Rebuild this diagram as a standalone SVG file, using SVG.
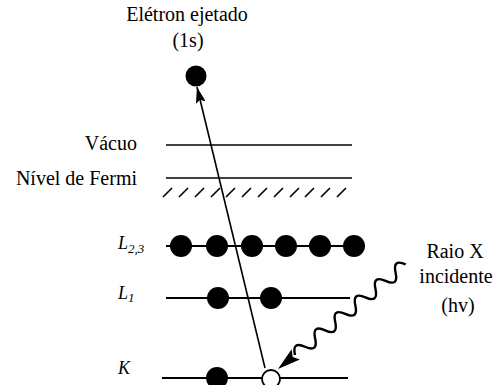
<svg xmlns="http://www.w3.org/2000/svg" width="496" height="385" viewBox="0 0 496 385">
<style>
text{font-family:"Liberation Serif","Times New Roman",serif;font-size:20px;fill:#000}
.lab{text-anchor:end}
.it{font-style:italic;font-size:18px}
.sub{font-size:13px}
.lvl{stroke:#000;stroke-width:2.2;fill:none}
.thin{stroke:#000;stroke-width:1.6;fill:none}
.dot{fill:#000}
</style>
<defs>
<marker id="ah" viewBox="0 0 16 10" refX="16" refY="5" markerWidth="16" markerHeight="10" markerUnits="userSpaceOnUse" orient="auto">
<path d="M0,0 L16,5 L0,10 L3,5 Z" fill="#000"/>
</marker>
</defs>
<g id="ejected">
<text x="187" y="21" text-anchor="middle">Elétron ejetado</text>
<text x="188" y="47" text-anchor="middle">(1s)</text>
<circle class="dot" cx="196" cy="76" r="10.5"/>
</g>
<g id="vacuum">
<text class="lab" x="137" y="150">Vácuo</text>
<line class="thin" x1="166" y1="145" x2="352" y2="145"/>
</g>
<g id="fermi">
<text class="lab" x="137" y="185">Nível de Fermi</text>
<line class="thin" x1="166" y1="178" x2="352" y2="178"/>
<path class="thin" d="M163,197l9,-9 M179,197l9,-9 M195,197l9,-9 M211,197l9,-9 M226,197l9,-9 M242,197l9,-9 M258,197l9,-9 M274,197l9,-9 M290,197l9,-9 M305,197l9,-9 M321,197l9,-9 M337,197l9,-9"/>
</g>
<g id="L23">
<text class="it" x="118" y="249">L<tspan class="sub" dy="4" font-style="italic">2,3</tspan></text>
<line class="lvl" x1="166" y1="246" x2="358" y2="246"/>
<circle class="dot" cx="181" cy="246" r="11"/>
<circle class="dot" cx="217" cy="246" r="11"/>
<circle class="dot" cx="252" cy="246" r="11"/>
<circle class="dot" cx="286" cy="246" r="11"/>
<circle class="dot" cx="320" cy="246" r="11"/>
<circle class="dot" cx="354" cy="246" r="11"/>
</g>
<g id="L1">
<text class="it" x="118" y="299">L<tspan class="sub" dy="3" font-style="italic">1</tspan></text>
<line class="lvl" x1="166" y1="298" x2="350" y2="298"/>
<circle class="dot" cx="218" cy="298" r="11"/>
<circle class="dot" cx="271" cy="298" r="11"/>
</g>
<g id="K">
<text class="it" x="118" y="374">K</text>
<line class="lvl" x1="162" y1="378" x2="348" y2="378"/>
<circle class="dot" cx="217" cy="378" r="11"/>
<circle cx="271" cy="379" r="9" fill="#fff" stroke="#000" stroke-width="1.8"/>
</g>
<g id="xray">
<text x="455" y="258" text-anchor="middle">Raio X</text>
<text x="456" y="283" text-anchor="middle">incidente</text>
<text x="458" y="312" text-anchor="middle">(hv)</text>
</g>
<g id="connectors">
<line class="thin" x1="265" y1="368" x2="197" y2="87" marker-end="url(#ah)"/>
<g transform="translate(295,355) rotate(-39.3)">
<path d="M0,0 Q6.5,-13 13,0 T26,0 T39,0 T52,0 T65,0 T78,0 T91,0 T104,0 T117,0 T130,0 T143,0" fill="none" stroke="#000" stroke-width="2.4"/>
<path d="M-22,0 L1,-6.5 L-3,0 L1,6.5 Z" fill="#000"/>
</g>
</g>
</svg>
